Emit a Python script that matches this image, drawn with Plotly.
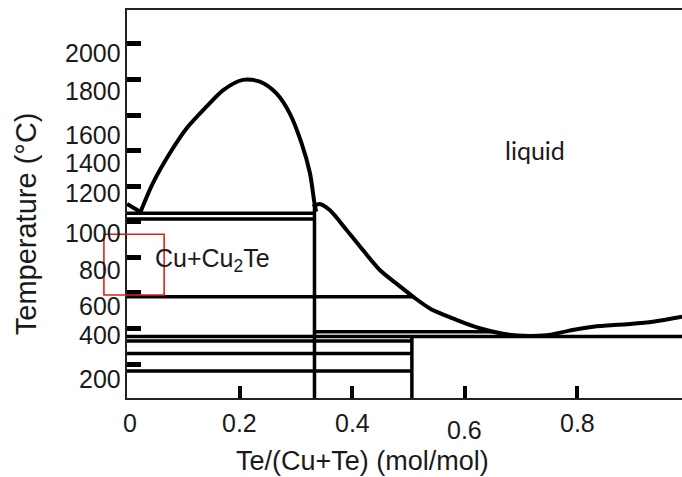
import plotly.graph_objects as go

# ---------------- data ----------------
# x: Te/(Cu+Te) mole fraction, y: temperature (degC) on the sketch scale
cu_side_x = [0.0, 0.024]
cu_side_t = [1100, 1055]

arc_x = [0.024, 0.046, 0.076, 0.106, 0.141, 0.171, 0.206, 0.236, 0.265, 0.289, 0.310, 0.325, 0.333, 0.336]
arc_t = [1055, 1217, 1385, 1526, 1647, 1741, 1798, 1788, 1723, 1610, 1442, 1273, 1104, 1057]

liq_x = [0.330, 0.342, 0.360, 0.390, 0.419, 0.449, 0.478, 0.508, 0.538, 0.584, 0.628, 0.688, 0.745, 0.786, 0.828, 0.887, 0.934, 0.986]
liq_t = [1085, 1100, 1066, 954, 841, 729, 654, 579, 513, 450, 400, 362, 362, 388, 410, 424, 438, 466]

# horizontal (invariant) lines: (x start, x end, temperature)
iso_x0 = [0.0, 0.0, 0.0, 0.333, 0.0, 0.0, 0.0, 0.0]
iso_x1 = [0.333, 0.333, 0.508, 0.650, 0.986, 0.506, 0.506, 0.506]
iso_t = [1048, 1016, 579, 381, 355, 330, 259, 161]

# vertical compound lines: (x, t top, t bottom)
comp_x = [0.333, 0.506]
comp_ttop = [1085, 355]
comp_tbot = [9, 9]

# axis ticks and labels
y_tick_vals = [200, 400, 600, 800, 1000, 1200, 1400, 1600, 1800, 2000]
y_label_text = ["200", "400", "600", "800", "1000", "1200", "1400", "1600", "1800", "2000"]
y_label_pos = [116, 363, 526, 729, 937, 1162, 1331, 1488, 1735, 1949]

x_tick_vals = [0.2, 0.4, 0.6, 0.8]
x_label_text = ["0", "0.2", "0.4", "0.6", "0.8"]
x_label_pos = [0.006, 0.2, 0.4, 0.6, 0.8]
x_label_drop = [25, 25, 25, 32, 25]

region_labels = ["liquid", "Cu+Cu<sub>2</sub>Te"]
region_x = [0.724, 0.152]
region_t = [1404, 785]

X_RANGE = [0.0, 0.9858]
Y_RANGE = [9, 2191]

# red highlight box in data units
box_x = [-0.041, 0.066]
box_t = [588, 930]

# ---------------- figure ----------------
fig = go.Figure()
BLACK = "#000000"

fig.add_trace(go.Scatter(x=cu_side_x, y=cu_side_t, mode="lines",
                         line=dict(color=BLACK, width=4), showlegend=False, hoverinfo="skip"))
fig.add_trace(go.Scatter(x=arc_x, y=arc_t, mode="lines",
                         line=dict(color=BLACK, width=4, shape="spline", smoothing=0.8),
                         showlegend=False, hoverinfo="skip"))
fig.add_trace(go.Scatter(x=liq_x, y=liq_t, mode="lines",
                         line=dict(color=BLACK, width=4, shape="spline", smoothing=0.8),
                         showlegend=False, hoverinfo="skip"))

for x0, x1, t in zip(iso_x0, iso_x1, iso_t):
    fig.add_trace(go.Scatter(x=[x0, x1], y=[t, t], mode="lines",
                             line=dict(color=BLACK, width=3.5), showlegend=False, hoverinfo="skip"))

for x, t0, t1 in zip(comp_x, comp_ttop, comp_tbot):
    fig.add_trace(go.Scatter(x=[x, x], y=[t0, t1], mode="lines",
                             line=dict(color=BLACK, width=3.5), showlegend=False, hoverinfo="skip"))

annotations = []
LABEL_FONT = dict(family="Liberation Sans, Arial, sans-serif", size=25, color="#1a1a1a")
TITLE_FONT = dict(family="Liberation Sans, Arial, sans-serif", size=27, color="#1a1a1a")

for txt, t in zip(y_label_text, y_label_pos):
    annotations.append(dict(text=txt, x=0, xref="paper", y=t, yref="y",
                            xanchor="right", yanchor="middle", xshift=-4,
                            showarrow=False, font=LABEL_FONT))
for txt, xv, drop in zip(x_label_text, x_label_pos, x_label_drop):
    annotations.append(dict(text=txt, x=xv, xref="x", y=0, yref="paper",
                            xanchor="center", yanchor="middle", yshift=-drop,
                            showarrow=False, font=LABEL_FONT))

annotations.append(dict(text=region_labels[0], x=region_x[0], y=region_t[0], xref="x", yref="y",
                        showarrow=False, font=dict(family="Lato, sans-serif", size=25, color="#1a1a1a")))
annotations.append(dict(text=region_labels[1], x=region_x[1], y=region_t[1], xref="x", yref="y",
                        showarrow=False, font=LABEL_FONT))

annotations.append(dict(text="Te/(Cu+Te) (mol/mol)", x=0.425, xref="paper", y=0, yref="paper",
                        yshift=-63, xanchor="center", yanchor="middle",
                        showarrow=False, font=TITLE_FONT))
annotations.append(dict(text="Temperature (°C)", x=-0.183, xref="paper", y=0.449, yref="paper",
                        textangle=-90, xanchor="center", yanchor="middle",
                        showarrow=False, font=dict(TITLE_FONT, size=29)))

def to_px(v, rng):
    return (v - rng[0]) / (rng[1] - rng[0])

shapes = [dict(type="rect", xref="paper", yref="paper",
               x0=to_px(box_x[0], X_RANGE), x1=to_px(box_x[1], X_RANGE),
               y0=to_px(box_t[0], Y_RANGE), y1=to_px(box_t[1], Y_RANGE),
               line=dict(color="#e0201c", width=1.6), layer="above")]

fig.update_layout(
    width=682, height=477,
    margin=dict(l=127, r=0, t=10, b=79),
    paper_bgcolor="white", plot_bgcolor="white",
    annotations=annotations, shapes=shapes,
    xaxis=dict(range=X_RANGE, showgrid=False, zeroline=False,
               showline=True, mirror=True, linecolor="#222", linewidth=2,
               tickvals=x_tick_vals, ticks="inside", ticklen=12, tickwidth=4,
               tickcolor=BLACK, showticklabels=False),
    yaxis=dict(range=Y_RANGE, showgrid=False, zeroline=False,
               showline=True, linecolor="#222", linewidth=2,
               tickvals=y_tick_vals, ticks="inside", ticklen=14, tickwidth=5,
               tickcolor=BLACK, showticklabels=False),
)

fig.write_html("out.html")
